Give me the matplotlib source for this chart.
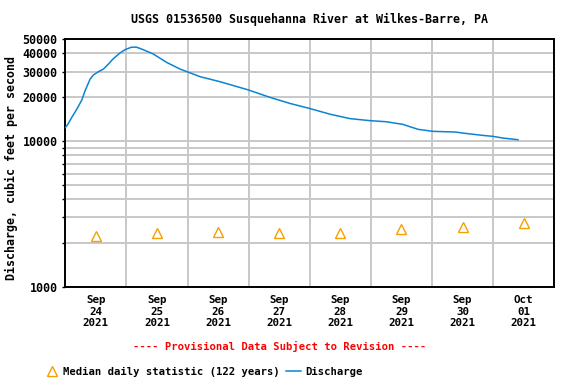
import matplotlib
matplotlib.use('Agg')
import matplotlib.pyplot as plt
import matplotlib.dates as mdates
from matplotlib.ticker import FixedLocator, NullFormatter
from matplotlib.lines import Line2D
import pandas as pd

# discharge readings (cfs)
q_times = ["2021-09-24 00:00", "2021-09-24 01:00", "2021-09-24 02:30", "2021-09-24 04:30",
           "2021-09-24 06:30", "2021-09-24 07:45", "2021-09-24 09:45", "2021-09-24 11:00",
           "2021-09-24 13:00", "2021-09-24 15:00", "2021-09-24 17:00", "2021-09-24 18:45",
           "2021-09-24 21:30", "2021-09-24 23:30", "2021-09-25 02:00", "2021-09-25 04:00",
           "2021-09-25 06:30", "2021-09-25 10:30", "2021-09-25 15:45", "2021-09-25 21:00",
           "2021-09-26 05:00", "2021-09-26 12:45", "2021-09-26 23:45", "2021-09-27 08:30",
           "2021-09-27 16:15", "2021-09-28 00:00", "2021-09-28 08:00", "2021-09-28 15:45",
           "2021-09-28 23:30", "2021-09-29 06:00", "2021-09-29 12:30", "2021-09-29 18:30",
           "2021-09-30 00:30", "2021-09-30 09:00", "2021-09-30 13:00", "2021-09-30 20:00",
           "2021-10-01 00:00", "2021-10-01 04:00", "2021-10-01 09:45"]
q_values = [12390, 13070, 14530, 16570, 19190, 22160, 26680, 28430,
            29980, 31280, 33880, 36660, 40340, 42490, 44150, 44150,
            42490, 39690, 34750, 31280, 27680, 25590, 22510, 19950,
            18150, 16760, 15310, 14290, 13840, 13600, 13050, 12060,
            11680, 11560, 11320, 10960, 10790, 10500, 10240]

# median daily statistic, plotted at noon
med_days = ["2021-09-24", "2021-09-25", "2021-09-26", "2021-09-27",
            "2021-09-28", "2021-09-29", "2021-09-30", "2021-10-01"]
med_values = [2229, 2338, 2375, 2338, 2338, 2493, 2575, 2742]

day_labels = ["Sep\n24\n2021", "Sep\n25\n2021", "Sep\n26\n2021", "Sep\n27\n2021",
              "Sep\n28\n2021", "Sep\n29\n2021", "Sep\n30\n2021", "Oct\n01\n2021"]

plt.rcParams['font.family'] = 'DejaVu Sans Mono'
plt.rcParams['font.weight'] = 'bold'

line_col = '#0a84d2'
med_col = '#f5a000'

fig = plt.figure(figsize=(5.76, 3.84), dpi=100)
ax = fig.add_axes([65.3 / 576, 1 - 287 / 384, (554.3 - 65.3) / 576, (287 - 39.3) / 384])

qt = pd.to_datetime(q_times)
ax.plot(qt, q_values, color=line_col, lw=1.1, zorder=3)

mt = pd.to_datetime(med_days) + pd.Timedelta(hours=12)
ax.plot(mt, med_values, ls='none', marker='^', ms=7.5, mfc='none', mec=med_col, mew=1.0, zorder=3)

ax.set_yscale('log')
ax.set_ylim(1000, 50000)
ax.set_xlim(pd.Timestamp("2021-09-24"), pd.Timestamp("2021-10-02"))

ax.yaxis.set_major_locator(FixedLocator([1000, 10000, 20000, 30000, 40000, 50000]))
ax.yaxis.set_major_formatter(plt.FuncFormatter(lambda v, p: "%d" % v))
ax.yaxis.set_minor_locator(FixedLocator([2000, 3000, 4000, 5000, 6000, 7000, 8000, 9000]))
ax.yaxis.set_minor_formatter(NullFormatter())

ax.set_xticks(mt)
ax.set_xticklabels(day_labels)
ax.xaxis.set_minor_locator(mdates.DayLocator())

# grid: every y line, but only midnight lines on x
ax.yaxis.grid(True, which='both', color='#c8c8c8', lw=1.4)
ax.xaxis.grid(True, which='minor', color='#c8c8c8', lw=1.4)
ax.xaxis.grid(False, which='major')
ax.set_axisbelow(True)
ax.tick_params(axis='y', which='both', length=2.5, width=1, pad=3, labelsize=8.4, direction='out')
ax.tick_params(axis='x', which='both', length=0, pad=6, labelsize=7.8)
for lbl in ax.get_xticklabels():
    lbl.set_linespacing(1.15)
for s in ax.spines.values():
    s.set_linewidth(1.4)

fig.text(309.8 / 576, 1 - 19 / 384, "USGS 01536500 Susquehanna River at Wilkes-Barre, PA",
         ha='center', va='center', fontsize=8.4, fontweight='bold')
fig.text(11 / 576, 1 - 168 / 384, "Discharge, cubic feet per second", rotation=90,
         ha='center', va='center', fontsize=8.4, fontweight='bold')
fig.text(280 / 576, 1 - 346 / 384, "---- Provisional Data Subject to Revision ----",
         ha='center', va='center', fontsize=7.6, fontweight='bold', color='red')

handles = [Line2D([], [], ls='none', marker='^', ms=7.5, mfc='none', mec=med_col, mew=1.0),
           Line2D([], [], color=line_col, lw=1.1)]
fig.legend(handles, ["Median daily statistic (122 years)", "Discharge"],
           loc='center left', bbox_to_anchor=(40 / 576, 1 - 372 / 384), ncol=2,
           frameon=False, fontsize=7.6, handlelength=1.4, handletextpad=0.4,
           columnspacing=0.6, borderaxespad=0)

fig.savefig('out.png', dpi=100)
